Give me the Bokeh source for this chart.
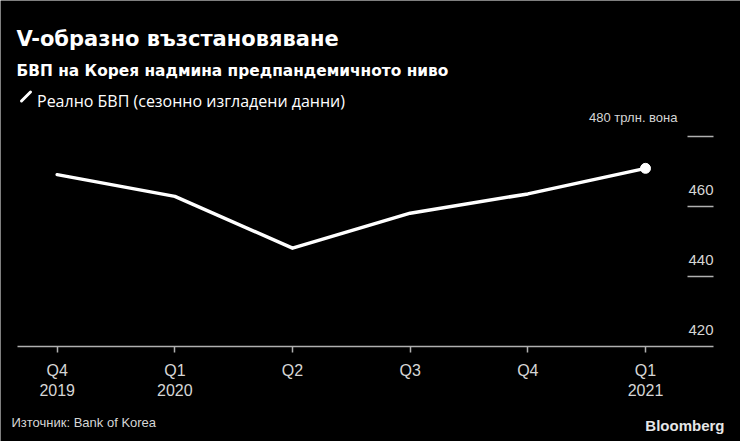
from bokeh.plotting import figure
from bokeh.models import Range1d, FixedTicker, Label
from bokeh.core.properties import value
from bokeh.embed import file_html
from bokeh.resources import INLINE

# ---- data ----
quarters = ["Q4\n2019", "Q1\n2020", "Q2", "Q3", "Q4", "Q1\n2021"]
gdp = [469.1, 462.9, 448.1, 458.1, 463.6, 470.9]
y_tick_values = [420, 440, 460]
y_tick_labels = ["420", "440", "460"]
top_tick_value = 480
top_tick_label = "480 трлн. вона"
grid_values = [440, 460, 480]

title_text = "V-образно възстановяване"
subtitle_text = "БВП на Корея надмина предпандемичното ниво"
legend_text = "Реално БВП (сезонно изгладени данни)"
source_text = "Източник: Bank of Korea"
brand_text = "Bloomberg"

# ---- geometry (frame = whole canvas) ----
W, H = 740, 441
PX_X = 117.66            # px per quarter
X0_PX = 56.7             # px position of first quarter
PX_Y = 3.5               # px per trillion
BASE_PX = 346            # px position of 420


def dx(px):
    return (px - X0_PX) / PX_X


def dy(py):
    return 420 + (BASE_PX - py) / PX_Y


BG = "#000000"
TXT = "#ffffff"
TICK_TXT = "#d6d6d6"
LINE_GRAY = "#b0b0b0"

p = figure(width=W, height=H, output_backend="svg", toolbar_location=None,
           x_range=Range1d(dx(0), dx(W)), y_range=Range1d(dy(H), dy(0)),
           y_axis_location=None, min_border=0)
p.background_fill_color = BG
p.border_fill_color = BG
p.outline_line_color = None
p.xgrid.visible = False
p.ygrid.visible = False

xs = list(range(len(quarters)))
ax = p.xaxis[0]
ax.fixed_location = 420
ax.bounds = (dx(17), dx(713))
ax.ticker = FixedTicker(ticks=xs)
ax.major_label_overrides = {i: q for i, q in zip(xs, quarters)}
ax.axis_line_color = LINE_GRAY
ax.axis_line_width = 1.5
ax.major_tick_line_color = LINE_GRAY
ax.major_tick_line_width = 1.5
ax.major_tick_out = 6
ax.major_tick_in = 0
ax.minor_tick_line_color = None
ax.major_label_text_color = TICK_TXT
ax.major_label_text_font = "Liberation Sans"
ax.major_label_text_font_size = "16px"
ax.major_label_standoff = 9

# short grid marks at the right
p.segment(x0=dx(687), x1=dx(713), y0=grid_values, y1=grid_values,
          line_color=LINE_GRAY, line_width=1.5)

# y tick labels inside the plot
p.text(x=dx(713), y=y_tick_values, text=y_tick_labels, text_align="right",
       text_baseline="alphabetic", y_offset=-17, text_color=TICK_TXT,
       text_font=value("Liberation Sans"), text_font_size="15px")
p.text(x=dx(677), y=[top_tick_value], text=[top_tick_label], text_align="right",
       text_baseline="alphabetic", y_offset=-19, text_color=TICK_TXT,
       text_font=value("Liberation Sans"), text_font_size="13px")

# series
p.line(xs, gdp, line_color="#ffffff", line_width=3.5, line_join="round", line_cap="round")
p.scatter(xs[-1:], gdp[-1:], size=10, color="#ffffff")


def lab(px, py, text, **kw):
    p.add_layout(Label(x=px, y=H - py, x_units="screen", y_units="screen", text=text, **kw))


lab(16, 38.3, title_text, text_color=TXT, text_font="DejaVu Sans",
    text_font_style="bold", text_font_size="21px", text_baseline="alphabetic")
lab(16, 70, subtitle_text, text_color=TXT, text_font="DejaVu Sans",
    text_font_style="bold", text_font_size="15.4px", text_baseline="alphabetic")
lab(36.5, 100.7, legend_text, text_color=TXT, text_font="Open Sans",
    text_font_size="16px", text_baseline="alphabetic")
# legend key: diagonal stroke
p.segment(x0=[dx(21)], y0=[dy(100.5)], x1=[dx(30)], y1=[dy(91.5)], line_color="#ffffff",
          line_width=3, line_cap="round")

lab(11, 422.3, source_text, text_color=TICK_TXT, text_font="Liberation Sans",
    text_font_size="13px", text_baseline="alphabetic")
lab(724, 425, brand_text, text_color="#e6e6e6", text_font="Liberation Sans",
    text_font_style="bold", text_font_size="15px", text_align="right",
    text_baseline="middle")

open("out.html", "w").write(file_html(p, INLINE))
